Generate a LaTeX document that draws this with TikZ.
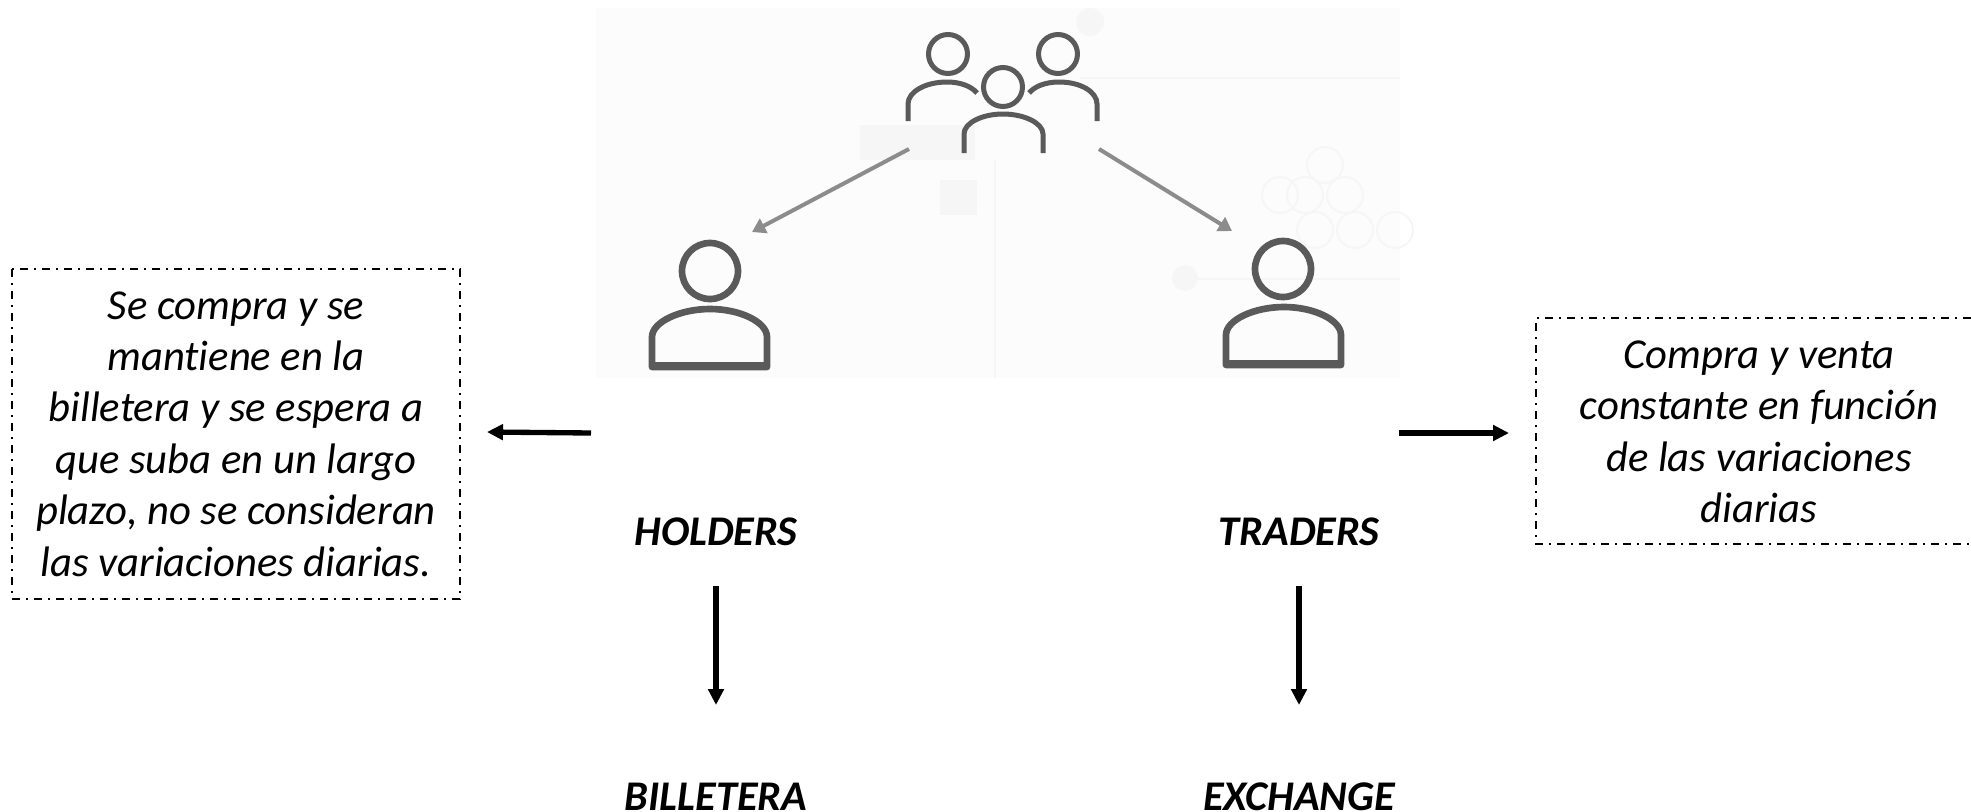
\documentclass[tikz,border=0pt]{standalone}
\usepackage{fontspec}
\setmainfont[Ligatures=NoCommon]{Carlito}
\usetikzlibrary{arrows.meta}
\definecolor{icon}{HTML}{5A5A5A}
\definecolor{graya}{HTML}{8C8C8C}
\definecolor{photo}{HTML}{FCFCFC}
\definecolor{ghost}{HTML}{F6F6F6}
\tikzset{
  iconline/.style={draw=icon,line width=5pt,line join=round},
  smallicon/.style={draw=icon,line width=3.75pt},
  grayarrow/.style={draw=graya,line width=3pt,-{Triangle[length=10pt,width=12pt]}},
  blackarrow/.style={draw=black,line width=4pt,-{Triangle[length=12pt,width=11.5pt]}},
  notebox/.style={draw=black,line width=1.4pt,dash pattern=on 6pt off 4.5pt on 1.5pt off 4.5pt},
  notetext/.style={font=\fontsize{32}{38.55}\selectfont\itshape,align=center,inner sep=0pt},
  label/.style={font=\fontsize{31.7}{36}\selectfont\bfseries\itshape,inner sep=0pt,anchor=base},
  ghostline/.style={draw=ghost,line width=1.5pt}
}
\begin{document}
\begin{tikzpicture}[x=0.75pt,y=-0.75pt]
\useasboundingbox (0,0) rectangle (1971,811);
% photo background
\fill[photo] (596,8) rectangle (1400,378);
\draw[ghostline] (995,160) -- (995,378);
\draw[ghostline] (1080,78) -- (1400,78);
\draw[ghostline] (1180,279) -- (1400,279);
\fill[ghost] (860,125) rectangle (975,160);
\fill[ghost] (940,180) rectangle (977,215);
\fill[ghost] (1185,278) circle (13);
\fill[ghost] (1090,22) circle (14);
\foreach \cx/\cy in {1325/165,1305/195,1345/195,1280/195,1315/230,1355/230,1395/230}
  \draw[ghostline] (\cx,\cy) circle (18);
% group icon
\draw[smallicon] (948,54) circle (19.5);
\draw[smallicon] (1058,54) circle (19.5);
\draw[smallicon] (1003,87) circle (19.5);
\draw[smallicon] (908,121) -- (908,104) .. controls (908,92) and (925,82) .. (947,82) .. controls (960,82) and (971,86) .. (977,93);
\draw[smallicon] (1097,121) -- (1097,104) .. controls (1097,92) and (1081,82) .. (1059,82) .. controls (1046,82) and (1035,86) .. (1029,93);
\draw[smallicon] (964,153) -- (964,134) .. controls (964,123) and (982,114) .. (1003,114) .. controls (1024,114) and (1043,123) .. (1043,134) -- (1043,153);
% holder icon
\draw[iconline] (710,271) circle (28);
\draw[iconline] (652,367) -- (652,337) .. controls (652,322) and (680,309) .. (710,309) .. controls (740,309) and (767,322) .. (767,337) -- (767,367) -- cycle;
\draw[iconline] (652,365) -- (767,365);
% trader icon
\draw[iconline] (1283,269) circle (28);
\draw[iconline] (1226,365) -- (1226,335) .. controls (1226,320) and (1254,307) .. (1284,307) .. controls (1314,307) and (1341,320) .. (1341,335) -- (1341,365) -- cycle;
\draw[iconline] (1226,363) -- (1341,363);
% named ends of the connectors
\coordinate (groupL) at (909,149);
\coordinate (groupR) at (1099,149);
\coordinate (iconL) at (752,232);
\coordinate (iconR) at (1232,231);
\coordinate (fromholder) at (591,433);
\coordinate (toleft) at (487,432);
\coordinate (fromtrader) at (1399,433);
\coordinate (toright) at (1509,433);
\coordinate (hdown) at (716,586);
\coordinate (hend) at (716,705);
\coordinate (tdown) at (1299,586);
\coordinate (tend) at (1299,705);
\draw[grayarrow] (groupL) -- (iconL);
\draw[grayarrow] (groupR) -- (iconR);
\draw[blackarrow] (fromholder) -- (toleft);
\draw[blackarrow] (fromtrader) -- (toright);
\draw[blackarrow] (hdown) -- (hend);
\draw[blackarrow] (tdown) -- (tend);
% labels
\node[label] (holders) at (716,545) {HOLDERS};
\node[label] (traders) at (1299,545) {TRADERS};
\node[label] (billetera) at (716,810) {BILLETERA};
\node[label] (exchange) at (1299,810) {EXCHANGE};
% note boxes
\draw[notebox] (12,269) rectangle (460,599);
\node[notetext] (holdernote) at (236,434) {Se compra y se\\mantiene en la\\billetera y se espera a\\que suba en un largo\\plazo, no se consideran\\las variaciones diarias.};
\draw[notebox] (1971,318) -- (1536,318) -- (1536,544) -- (1971,544);
\node[notetext] (tradernote) at (1759,432) {Compra y venta\\constante en función\\de las variaciones\\diarias};
\end{tikzpicture}
\end{document}
